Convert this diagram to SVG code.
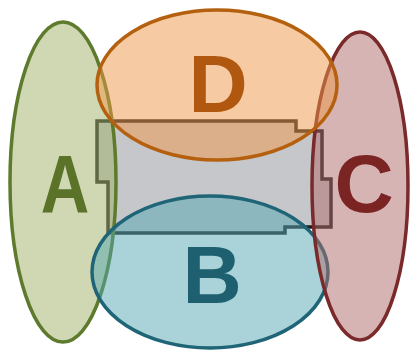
<svg xmlns="http://www.w3.org/2000/svg" width="410" height="353" viewBox="0 0 410 353">
  <style>
    .set { stroke-width: 3.5; fill-opacity: 0.5; }
    .label { font-family: "Liberation Sans", Arial, sans-serif; font-weight: bold; font-size: 82px; text-anchor: middle; }
  </style>
  <rect width="410" height="353" fill="#ffffff"/>
  <g id="core">
    <path d="M97,121 H296 V131 H322 V179 H331 V227 H285 V233 H108 V182 H97 Z" fill="#c6c7ca" stroke="#1e1e1e" stroke-width="3.5" stroke-linejoin="miter"/>
  </g>
  <g id="setA">
    <ellipse class="set" cx="63" cy="182" rx="53" ry="160" fill="#9fb165" stroke="#5e7a2c"/>
  </g>
  <g id="setB">
    <ellipse class="set" cx="210" cy="272" rx="118" ry="76" fill="#53a7b1" stroke="#1f6577"/>
  </g>
  <g id="setC">
    <ellipse class="set" cx="360" cy="186" rx="48" ry="154" fill="#af6969" stroke="#7a2a2a"/>
  </g>
  <g id="setD">
    <ellipse class="set" cx="217" cy="85" rx="120" ry="75" fill="#ed9747" stroke="#b5600f"/>
  </g>
  <g id="labels">
    <text class="label" transform="translate(65,212) scale(0.82,1)" fill="#5a7328">A</text>
    <text class="label" x="218" y="112" fill="#b0580f">D</text>
    <text class="label" x="364" y="212" fill="#7a2424">C</text>
    <text class="label" x="212" y="303" fill="#1e5f70">B</text>
  </g>
</svg>
